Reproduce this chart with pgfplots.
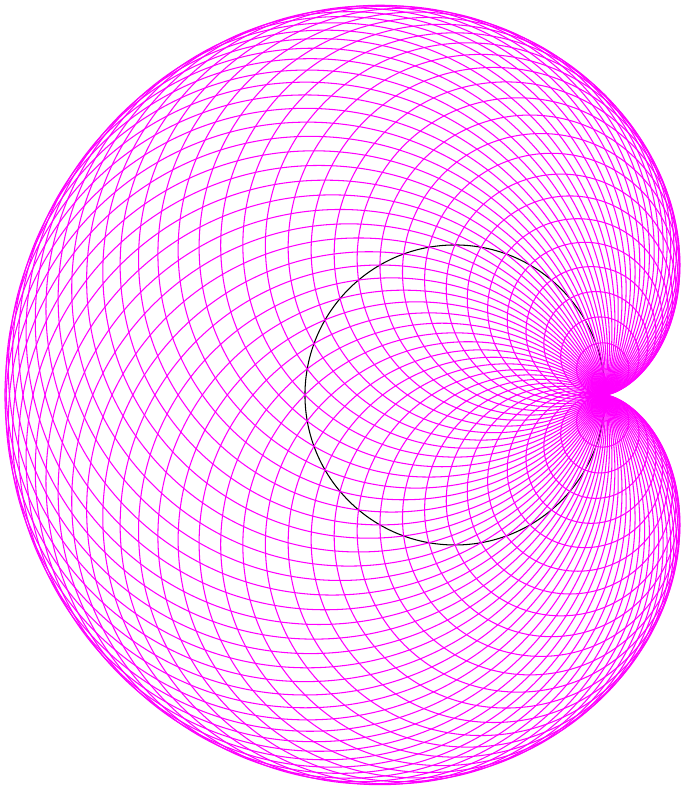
\documentclass[border=0pt]{standalone}
\usepackage{pgfplots}
\usepackage{pgfplotstable}
\pgfplotsset{compat=1.18}
\definecolor{mag}{RGB}{255,0,255}
% circle centres (cx, cy) on the unit base circle and radii R
\pgfplotstableread{
cx cy R
0.9962 0.0872 0.0872
0.9848 0.1736 0.1743
0.9659 0.2588 0.2611
0.9397 0.3420 0.3473
0.9063 0.4226 0.4329
0.8660 0.5000 0.5176
0.8192 0.5736 0.6014
0.7660 0.6428 0.6840
0.7071 0.7071 0.7654
0.6428 0.7660 0.8452
0.5736 0.8192 0.9235
0.5000 0.8660 1.0000
0.4226 0.9063 1.0746
0.3420 0.9397 1.1472
0.2588 0.9659 1.2175
0.1736 0.9848 1.2856
0.0872 0.9962 1.3512
0.0000 1.0000 1.4142
-0.0872 0.9962 1.4746
-0.1736 0.9848 1.5321
-0.2588 0.9659 1.5867
-0.3420 0.9397 1.6383
-0.4226 0.9063 1.6868
-0.5000 0.8660 1.7321
-0.5736 0.8192 1.7740
-0.6428 0.7660 1.8126
-0.7071 0.7071 1.8478
-0.7660 0.6428 1.8794
-0.8192 0.5736 1.9074
-0.8660 0.5000 1.9319
-0.9063 0.4226 1.9526
-0.9397 0.3420 1.9696
-0.9659 0.2588 1.9829
-0.9848 0.1736 1.9924
-0.9962 0.0872 1.9981
-1.0000 0.0000 2.0000
-0.9962 -0.0872 1.9981
-0.9848 -0.1736 1.9924
-0.9659 -0.2588 1.9829
-0.9397 -0.3420 1.9696
-0.9063 -0.4226 1.9526
-0.8660 -0.5000 1.9319
-0.8192 -0.5736 1.9074
-0.7660 -0.6428 1.8794
-0.7071 -0.7071 1.8478
-0.6428 -0.7660 1.8126
-0.5736 -0.8192 1.7740
-0.5000 -0.8660 1.7321
-0.4226 -0.9063 1.6868
-0.3420 -0.9397 1.6383
-0.2588 -0.9659 1.5867
-0.1736 -0.9848 1.5321
-0.0872 -0.9962 1.4746
0.0000 -1.0000 1.4142
0.0872 -0.9962 1.3512
0.1736 -0.9848 1.2856
0.2588 -0.9659 1.2175
0.3420 -0.9397 1.1472
0.4226 -0.9063 1.0746
0.5000 -0.8660 1.0000
0.5736 -0.8192 0.9235
0.6428 -0.7660 0.8452
0.7071 -0.7071 0.7654
0.7660 -0.6428 0.6840
0.8192 -0.5736 0.6014
0.8660 -0.5000 0.5176
0.9063 -0.4226 0.4329
0.9397 -0.3420 0.3473
0.9659 -0.2588 0.2611
0.9848 -0.1736 0.1743
0.9962 -0.0872 0.0872
}\circles
\pgfplotstableread{
cx cy R
0 0 1
}\base
\begin{document}
\begin{tikzpicture}
\begin{axis}[
  x=2cm, y=2cm,
  xmin=-3.033, xmax=1.513,
  ymin=-2.66, ymax=2.633,
  hide axis,
  clip=false,
]
\addplot[scatter, only marks, mark=o, line width=0.4pt,
  scatter/use mapped color={draw=black},
  visualization depends on={56.9055*\thisrow{R} \as \rs},
  scatter/@pre marker code/.append style={/tikz/mark size=\rs pt}]
  table[x=cx, y=cy] {\base};
\addplot[scatter, only marks, mark=o, line width=0.4pt,
  scatter/use mapped color={draw=mag},
  visualization depends on={56.9055*\thisrow{R} \as \rs},
  scatter/@pre marker code/.append style={/tikz/mark size=\rs pt}]
  table[x=cx, y=cy] {\circles};
\end{axis}
\pgfresetboundingbox
\path[use as bounding box] (current axis.south west) rectangle (current axis.north east);
\end{tikzpicture}
\end{document}
